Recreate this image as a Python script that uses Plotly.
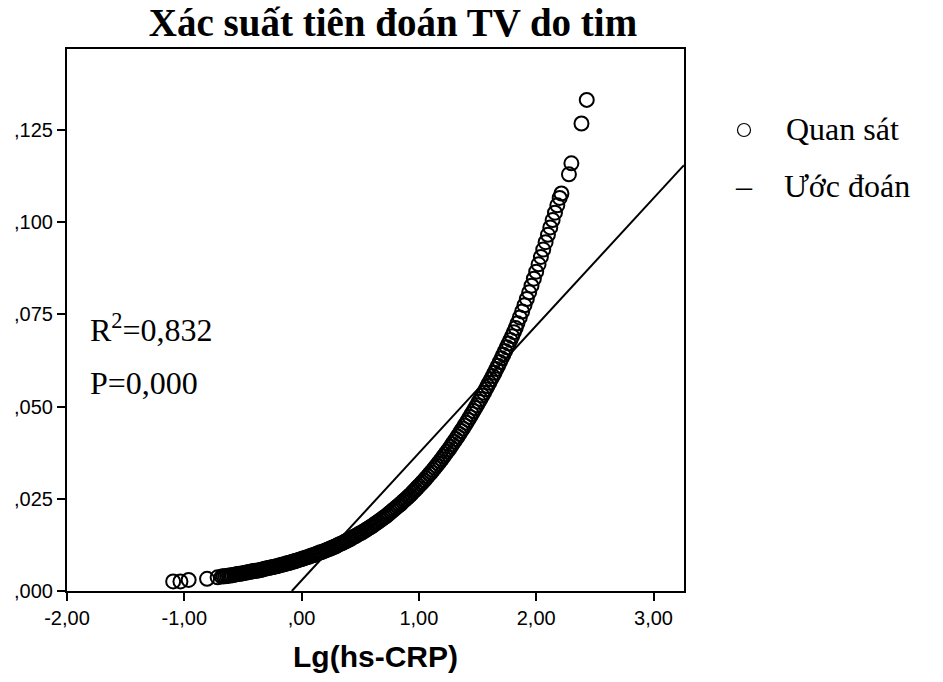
import plotly.graph_objects as go

# Observed points (Quan sát): Lg(hs-CRP) vs predicted probability
obs_x = [-1.095, -1.033, -0.963, -0.806, -0.716,
         -0.68, -0.65, -0.62, -0.59, -0.56, -0.53, -0.50, -0.47, -0.44, -0.41,
         -0.38, -0.35, -0.32, -0.29, -0.26, -0.23, -0.20, -0.17, -0.14, -0.11,
         -0.08, -0.05, -0.02, 0.01, 0.04, 0.07, 0.10, 0.13, 0.16, 0.19,
         0.22, 0.25, 0.28, 0.31, 0.34, 0.37, 0.40, 0.43, 0.46, 0.49,
         0.52, 0.55, 0.58, 0.61, 0.64, 0.67, 0.70, 0.73, 0.76, 0.79,
         0.82, 0.85, 0.88, 0.91, 0.94, 0.97, 1.00, 1.03, 1.06, 1.09,
         1.12, 1.15, 1.18, 1.21, 1.24, 1.27, 1.30, 1.33, 1.36, 1.39,
         1.42, 1.45, 1.48, 1.51, 1.54, 1.57, 1.60, 1.63, 1.66, 1.69,
         1.72, 1.75, 1.78, 1.81, 1.84, 1.86, 1.88, 1.90, 1.92, 1.94,
         1.96, 1.98, 2.00, 2.02, 2.04, 2.06, 2.08, 2.10, 2.12, 2.14,
         2.16, 2.18, 2.20, 2.215,
         2.279, 2.30, 2.386, 2.431]
obs_y = [0.0026, 0.0026, 0.0030, 0.0033, 0.0037,
         0.0039, 0.0040, 0.0042, 0.0043, 0.0045, 0.0047, 0.0048, 0.0050, 0.0052, 0.0054,
         0.0055, 0.0057, 0.0060, 0.0062, 0.0064, 0.0066, 0.0068, 0.0071, 0.0073, 0.0076,
         0.0079, 0.0082, 0.0085, 0.0088, 0.0091, 0.0094, 0.0097, 0.0101, 0.0105, 0.0108,
         0.0112, 0.0116, 0.0120, 0.0125, 0.0129, 0.0134, 0.0139, 0.0144, 0.0149, 0.0155,
         0.0160, 0.0166, 0.0172, 0.0178, 0.0185, 0.0192, 0.0199, 0.0206, 0.0214, 0.0222,
         0.0230, 0.0238, 0.0247, 0.0256, 0.0265, 0.0275, 0.0285, 0.0295, 0.0306, 0.0317,
         0.0328, 0.0340, 0.0352, 0.0365, 0.0378, 0.0391, 0.0405, 0.0419, 0.0434, 0.0449,
         0.0464, 0.0480, 0.0496, 0.0513, 0.0530, 0.0547, 0.0565, 0.0583, 0.0602, 0.0621,
         0.0641, 0.0661, 0.0681, 0.0702, 0.0726, 0.0742, 0.0758, 0.0775, 0.0792, 0.0810,
         0.0828, 0.0847, 0.0866, 0.0886, 0.0906, 0.0926, 0.0946, 0.0966, 0.0986, 0.1006,
         0.1026, 0.1046, 0.1066, 0.1078,
         0.1130, 0.1160, 0.1268, 0.1332]

# further observed points lying within the dense part of the band
obs_x_more = [-0.665, -0.635, -0.605, -0.575, -0.545, -0.515, -0.485, -0.455, -0.425, -0.395,
              -0.365, -0.335, -0.305, -0.275, -0.245, -0.215, -0.185, -0.155, -0.125, -0.095,
              -0.065, -0.035, -0.005, 0.025, 0.055, 0.085, 0.115, 0.145, 0.175, 0.205,
              0.235, 0.265, 0.295, 0.325, 0.355, 0.385, 0.415, 0.445, 0.475, 0.505,
              0.535, 0.565, 0.595, 0.625, 0.655, 0.685, 0.715, 0.745, 0.775, 0.805,
              0.835, 0.865, 0.895, 0.925, 0.955, 0.985, 1.015, 1.045, 1.075, 1.105,
              1.135, 1.165, 1.195, 1.225, 1.255, 1.285, 1.315, 1.345, 1.375, 1.405,
              1.435, 1.465, 1.495, 1.525, 1.555, 1.585, 1.615, 1.645, 1.675, 1.705,
              1.735, 1.765, 1.795, 1.825]
obs_y_more = [0.0040, 0.0041, 0.0042, 0.0044, 0.0046, 0.0047, 0.0049, 0.0051, 0.0053, 0.0055,
              0.0056, 0.0058, 0.0061, 0.0063, 0.0065, 0.0067, 0.0070, 0.0072, 0.0075, 0.0077,
              0.0080, 0.0083, 0.0086, 0.0089, 0.0092, 0.0096, 0.0099, 0.0103, 0.0106, 0.0110,
              0.0114, 0.0118, 0.0122, 0.0127, 0.0131, 0.0136, 0.0141, 0.0147, 0.0152, 0.0157,
              0.0163, 0.0169, 0.0175, 0.0182, 0.0188, 0.0195, 0.0202, 0.0210, 0.0218, 0.0226,
              0.0234, 0.0243, 0.0251, 0.0260, 0.0270, 0.0280, 0.0290, 0.0300, 0.0311, 0.0322,
              0.0334, 0.0346, 0.0358, 0.0371, 0.0384, 0.0398, 0.0412, 0.0426, 0.0441, 0.0456,
              0.0472, 0.0488, 0.0504, 0.0521, 0.0538, 0.0556, 0.0574, 0.0592, 0.0611, 0.0631,
              0.0651, 0.0671, 0.0691, 0.0713]

# Fitted linear estimate (Ước đoán)
fit_x = [-0.083, 3.26]
fit_y = [0.0, 0.1155]

x_tickvals = [-2, -1, 0, 1, 2, 3]
x_ticktext = ["-2,00", "-1,00", ",00", "1,00", "2,00", "3,00"]
y_tickvals = [0.0, 0.025, 0.05, 0.075, 0.1, 0.125]
y_ticktext = [",000", ",025", ",050", ",075", ",100", ",125"]

W, H = 943, 682
L, R, T, B = 67, 259, 49, 91
pw, ph = W - L - R, H - T - B


def px(xp):
    return (xp - L) / pw


def py(yp):
    return (H - B - yp) / ph


fig = go.Figure()
fig.add_trace(go.Scatter(
    x=fit_x, y=fit_y, mode="lines", name="Ước đoán",
    line=dict(color="black", width=2), showlegend=False))
fig.add_trace(go.Scatter(
    x=obs_x + obs_x_more, y=obs_y + obs_y_more, mode="markers", name="Quan sát",
    marker=dict(symbol="circle-open", size=14, color="black",
                line=dict(color="black", width=2)),
    showlegend=False))

serif = "Liberation Serif, Times New Roman, serif"
sans = "Liberation Sans, Arial, sans-serif"

fig.update_layout(
    width=W, height=H, autosize=False,
    margin=dict(l=L, r=R, t=T, b=B),
    paper_bgcolor="white", plot_bgcolor="white",
    title=dict(text="<b>Xác suất tiên đoán TV do tim</b>",
               font=dict(family=serif, size=39, color="black"),
               x=393 / W, xref="container", xanchor="center",
               y=1 - 22 / H, yref="container", yanchor="middle"),
    xaxis=dict(range=[-2, 3.26], tickvals=x_tickvals, ticktext=x_ticktext,
               showgrid=False, zeroline=False, showline=True, mirror=True,
               linecolor="black", linewidth=2, ticks="outside", ticklen=8,
               tickwidth=2, tickcolor="black",
               tickfont=dict(family=sans, size=20, color="black"),
               title=dict(text="<b>Lg(hs-CRP)</b>", standoff=18,
                          font=dict(family=sans, size=30, color="black"))),
    yaxis=dict(range=[0, 0.147], tickvals=y_tickvals, ticktext=y_ticktext,
               showgrid=False, zeroline=False, showline=True, mirror=True,
               linecolor="black", linewidth=2, ticks="outside", ticklen=8,
               tickwidth=2, tickcolor="black",
               tickfont=dict(family=sans, size=20, color="black")),
)

annots = [
    dict(text="R<sup>2</sup>=0,832", x=px(88), y=py(328), xanchor="left", yanchor="middle"),
    dict(text="P=0,000", x=px(88), y=py(383), xanchor="left", yanchor="middle"),
    dict(text="Quan sát", x=px(784), y=py(129), xanchor="left", yanchor="middle"),
    dict(text="–", x=px(744), y=py(186), xanchor="center", yanchor="middle"),
    dict(text="Ước đoán", x=px(782), y=py(186), xanchor="left", yanchor="middle"),
]
for a in annots:
    fig.add_annotation(xref="paper", yref="paper", showarrow=False,
                       font=dict(family=serif, size=32, color="black"), **a)

# legend circle glyph for observed points
r = 6.5
fig.add_shape(type="circle", xref="paper", yref="paper",
              x0=px(744 - r), x1=px(744 + r), y0=py(130 + r), y1=py(130 - r),
              line=dict(color="black", width=1.2))

fig.write_html("out.html")
